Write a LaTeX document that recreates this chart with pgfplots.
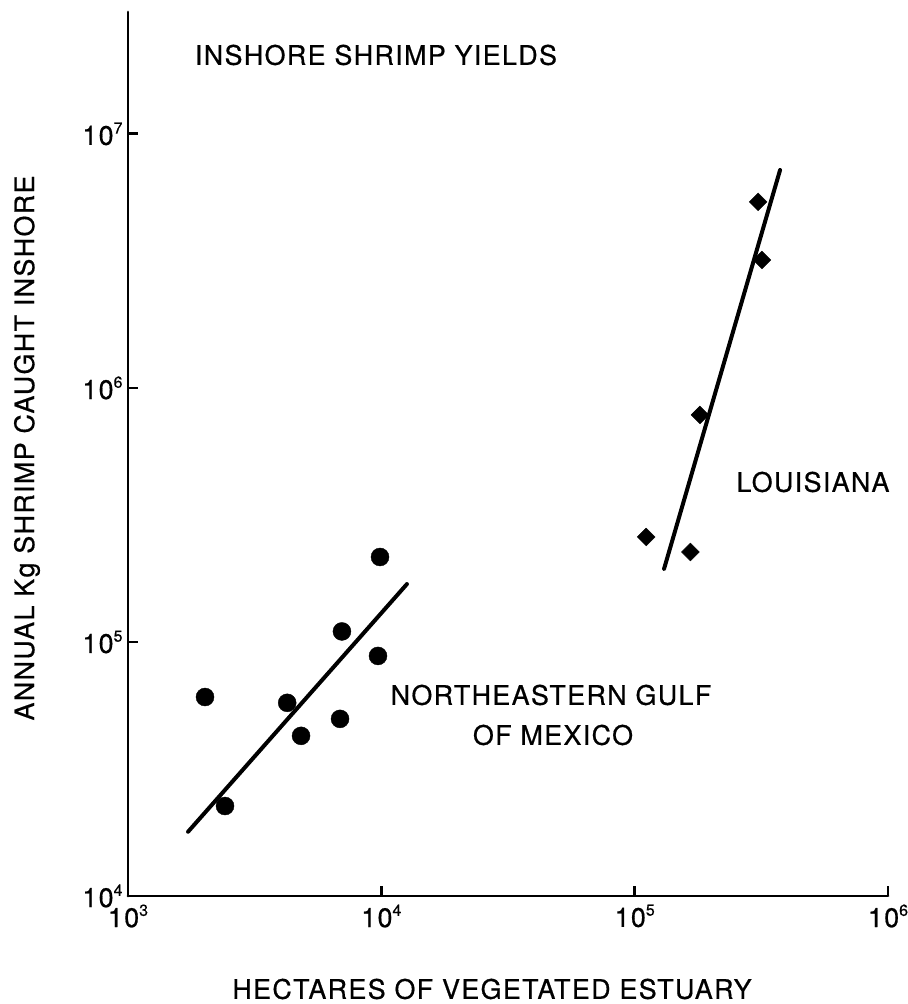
\documentclass[border=0pt]{standalone}
\usepackage{fontspec}
\setmainfont{TeX Gyre Heros}[LetterSpace=5, FakeBold=0.6]
\usepackage{pgfplots}
\pgfplotsset{compat=1.18}
\newcommand\bigf{\fontsize{27}{32}\selectfont}
\newcommand\p[1]{\hbox{\bigf 10\raisebox{0.42em}{\fontsize{16}{16}\selectfont #1}}}

\pgfplotstableread{
x y
2014 60700
2415 22600
4250 57600
4820 42700
6870 49800
6990 110000
9700 88100
9880 216000
}\gulf

\pgfplotstableread{
x y
111000 259000
166000 226000
181000 783000
318000 3190000
307000 5400000
}\louis

\begin{document}
\begin{tikzpicture}
\useasboundingbox (-128bp,-108bp) rectangle (780bp,896bp);
\begin{axis}[
  at={(0,0)}, anchor=south west,
  scale only axis, width=760bp, height=884bp,
  xmode=log, ymode=log,
  xmin=1e3, xmax=1e6, ymin=1e4, ymax=3.02e7,
  axis x line*=bottom, axis y line*=left,
  axis line style={line width=2.8bp, line cap=round, -},
  xtick={1e3,1e4,1e5,1e6}, ytick={1e4,1e5,1e6,1e7},
  xticklabels={\p{3},\p{4},\p{5},\p{6}},
  yticklabels={\p{4},\p{5},\p{6},\p{7}},
  xminorticks=false, yminorticks=false,
  tick align=inside, major tick length=10bp,
  every tick/.style={black, line width=2.8bp},
  ticklabel style={font=\bigf},
  xticklabel style={yshift=-5bp},
  yticklabel style={xshift=-2bp},
  clip=false,
]
\addplot[only marks, mark=*, mark size=9bp, black] table {\gulf};
\addplot[only marks, mark=square*, mark size=6.3bp, mark options={rotate=45}, black] table {\louis};
\addplot[black, line width=4bp, line cap=round] coordinates {(1726,17900) (12620,169000)};
\addplot[black, line width=4bp, line cap=round] coordinates {(130600,194000) (375000,7210000)};
\end{axis}
\node[font=\bigf] at (248bp,841bp) {INSHORE SHRIMP YIELDS};
\node[font=\bigf] at (685bp,414bp) {LOUISIANA};
\node[font=\bigf] at (423bp,201bp) {NORTHEASTERN GULF};
\node[font=\bigf] at (425bp,161bp) {OF MEXICO};
\node[font=\bigf] at (364bp,-93bp) {HECTARES OF VEGETATED ESTUARY};
\node[font=\bigf, rotate=90] at (-101bp,448bp) {ANNUAL Kg SHRIMP CAUGHT INSHORE};
\end{tikzpicture}
\end{document}
